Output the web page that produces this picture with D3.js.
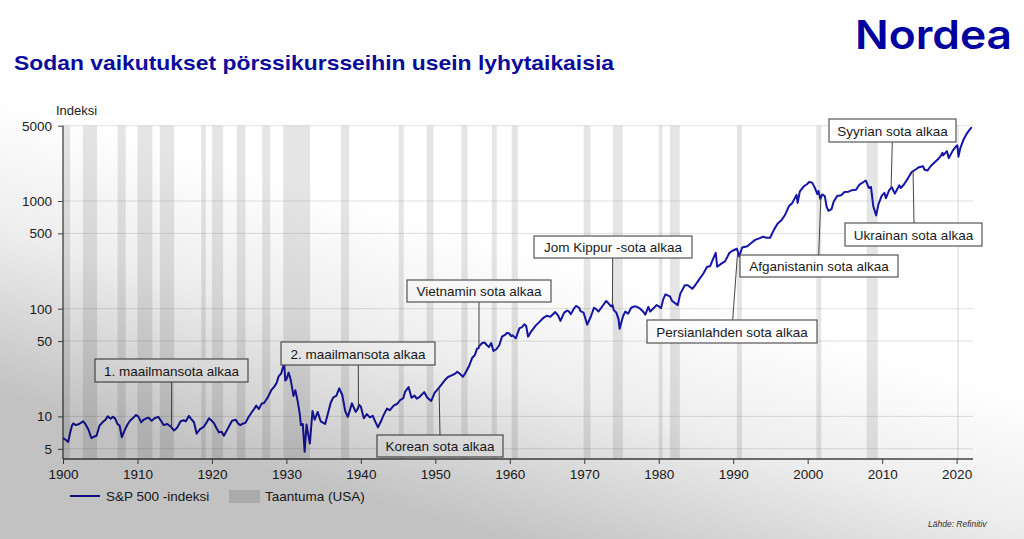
<!DOCTYPE html>
<html><head><meta charset="utf-8">
<script src="https://cdn.jsdelivr.net/npm/d3@7"></script>
<style>body{margin:0;background:#fff}svg{display:block;font-family:"Liberation Sans",Arial,sans-serif}</style>
</head><body><svg id="c" width="1024" height="539"></svg>
<script>
// ---- DATA ----
const dates = [1900.0,1900.3,1900.7,1900.95,1901.2,1901.4,1901.7,1902.0,1902.4,1902.7,1903.0,1903.4,1903.8,1904.2,1904.5,1904.9,1905.3,1905.7,1906.0,1906.4,1906.7,1907.0,1907.3,1907.6,1907.9,1908.3,1908.7,1909.0,1909.5,1909.8,1910.1,1910.5,1910.8,1911.2,1911.5,1911.9,1912.3,1912.8,1913.2,1913.5,1914.0,1914.5,1914.9,1915.3,1915.8,1916.2,1916.5,1916.9,1917.3,1917.6,1917.95,1918.4,1918.9,1919.3,1919.6,1919.9,1920.3,1920.6,1920.95,1921.3,1921.6,1921.9,1922.3,1922.7,1923.2,1923.5,1923.8,1924.2,1924.5,1924.9,1925.3,1925.7,1925.95,1926.3,1926.7,1927.0,1927.5,1927.95,1928.4,1928.7,1928.95,1929.3,1929.7,1929.85,1930.0,1930.3,1930.6,1930.95,1931.2,1931.5,1931.8,1931.95,1932.2,1932.45,1932.7,1932.9,1933.15,1933.5,1933.8,1934.2,1934.6,1935.2,1935.6,1935.95,1936.3,1936.7,1937.1,1937.5,1937.9,1938.25,1938.8,1939.3,1939.6,1939.75,1940.0,1940.4,1940.8,1941.2,1941.6,1941.95,1942.3,1942.7,1943.0,1943.5,1943.9,1944.4,1944.9,1945.3,1945.7,1945.95,1946.4,1946.8,1947.2,1947.5,1947.9,1948.5,1948.9,1949.45,1949.9,1950.5,1950.9,1951.3,1951.7,1952.2,1952.6,1952.95,1953.4,1953.7,1954.0,1954.5,1954.95,1955.3,1955.6,1955.8,1955.9,1956.3,1956.6,1956.9,1957.2,1957.5,1957.8,1958.2,1958.6,1958.95,1959.4,1959.6,1959.9,1960.2,1960.4,1960.8,1961.3,1961.6,1961.95,1962.2,1962.45,1962.9,1963.5,1963.95,1964.5,1965.0,1965.45,1966.1,1966.5,1966.8,1967.3,1967.7,1967.9,1968.2,1968.6,1968.9,1969.3,1969.5,1969.9,1970.4,1970.9,1971.3,1971.6,1971.9,1972.5,1972.95,1973.3,1973.6,1973.8,1973.95,1974.3,1974.6,1974.75,1975.2,1975.5,1975.9,1976.3,1976.7,1976.95,1977.5,1977.9,1978.2,1978.6,1978.85,1979.3,1979.7,1979.9,1980.2,1980.3,1980.6,1980.9,1981.2,1981.5,1981.8,1982.55,1982.9,1983.5,1983.9,1984.5,1984.9,1985.5,1985.95,1986.5,1986.9,1987.3,1987.65,1987.85,1988.5,1988.9,1989.5,1989.9,1990.5,1990.8,1991.2,1991.9,1992.5,1992.95,1993.5,1993.95,1994.5,1994.95,1995.5,1995.95,1996.5,1996.95,1997.5,1997.9,1998.5,1998.65,1998.95,1999.5,1999.9,2000.2,2000.6,2000.95,2001.3,2001.45,2001.7,2001.95,2002.3,2002.55,2002.8,2003.2,2003.5,2003.95,2004.5,2004.95,2005.5,2005.95,2006.5,2006.95,2007.5,2007.8,2008.2,2008.5,2008.8,2009.2,2009.5,2009.95,2010.3,2010.5,2010.95,2011.3,2011.7,2011.95,2012.3,2012.5,2012.95,2013.5,2013.95,2014.5,2014.95,2015.5,2015.7,2016.1,2016.5,2016.95,2017.5,2017.95,2018.1,2018.2,2018.7,2018.95,2019.5,2019.95,2020.1,2020.25,2020.5,2020.95,2021.3,2021.6,2021.95,2022.05];
const values = [6.3,6.1,5.8,7.0,8.2,8.6,8.3,8.4,8.7,9.0,8.5,7.6,6.3,6.5,6.6,8.2,8.8,9.3,10.0,9.5,9.9,9.6,8.5,8.2,6.4,7.5,8.5,9.1,9.8,10.3,10.0,8.8,9.3,9.6,9.7,9.1,9.6,9.9,9.0,8.3,8.5,8.0,7.4,7.8,9.0,9.2,9.0,10.1,9.3,8.8,6.9,7.6,8.0,8.8,9.6,9.2,8.6,7.8,7.1,7.2,6.6,7.2,8.1,9.1,9.3,8.6,8.3,8.6,8.7,9.8,10.8,11.8,12.6,11.7,13.2,13.3,15.0,17.4,19.0,20.5,23.5,25,31.3,21.5,22,25.5,21.5,15.5,17.5,14,10.5,8.3,8.5,4.7,8.4,7,5.6,11.2,9.3,11.0,9.0,8.5,10.8,13.4,15,15.5,18.2,15.8,11.2,9.9,13.2,11.0,11.8,12.8,12.3,9.6,10.5,9.8,10.1,8.9,7.9,9.0,10.1,11.8,11.4,12.6,13.1,14.2,14.8,17.0,18.7,14.9,15.6,14.6,15.2,16.8,15.0,13.9,16.5,18.5,20.0,21.8,23.2,24.0,24.8,26.0,24.5,23.3,25.0,29.0,35.0,37,42.5,43,45.0,48.0,48.5,46.0,44,48.0,40.5,42.0,46,55.0,57.5,59.5,59.0,55.5,56.5,53.0,66.0,67,71.5,69,55.0,62.0,70.0,75.0,82.0,86.0,84.0,93.0,86,77.0,92.0,96,95.0,89.0,100,106.0,102,95.0,92.0,71.0,85.0,102.0,99,94.0,107.0,118.0,111,105,108,97.0,92.0,80,65.0,85.0,94.0,90.0,102,105.0,105.0,100.0,94.0,88.0,104.0,94.0,101,108,106.0,103.0,101.0,122,136.0,133,130.0,118.0,108.0,138.0,165.0,165.0,153.0,165.0,190.0,210.0,245.0,248.0,290.0,330.0,245.0,265.0,275.0,330.0,345.0,360.0,305.0,370.0,380.0,412.0,435.0,450.0,465.0,455.0,455.0,545.0,615.0,665.0,740.0,900.0,950.0,1140.0,960.0,1230.0,1370.0,1430.0,1500.0,1480.0,1330.0,1160.0,1240.0,1040.0,1150.0,1110.0,880.0,810.0,840.0,990.0,1110.0,1130.0,1210.0,1220.0,1260.0,1270.0,1420.0,1500.0,1550.0,1320.0,1350.0,900.0,735.0,930.0,1120.0,1190.0,1060.0,1260.0,1340.0,1170.0,1260.0,1400.0,1320.0,1430.0,1640.0,1850.0,1960.0,2060.0,2100.0,1950.0,1920.0,2100.0,2250.0,2440.0,2670.0,2800.0,2650.0,2900.0,2500.0,2950.0,3230.0,3280.0,2580.0,3100.0,3750.0,4150.0,4450.0,4770.0,4700.0];

const recessionStart = [1900.0,1902.67,1907.33,1910.0,1913.0,1918.58,1920.0,1923.33,1926.75,1929.58,1937.33,1945.08,1948.83,1953.5,1957.58,1960.25,1969.92,1973.83,1980.0,1981.5,1990.5,2001.17,2007.92,2020.08];
const recessionEnd   = [1900.95,1904.58,1908.42,1912.0,1914.92,1919.17,1921.5,1924.5,1927.83,1933.17,1938.42,1945.75,1949.75,1954.33,1958.25,1961.08,1970.83,1975.17,1980.5,1982.83,1991.17,2001.83,2009.42,2020.25];

const yTicks = [5,10,50,100,500,1000,5000];
const xTicks = [1900,1910,1920,1930,1940,1950,1960,1970,1980,1990,2000,2010,2020];

const eventLabels = ["1. maailmansota alkaa","2. maailmansota alkaa","Korean sota alkaa","Vietnamin sota alkaa","Jom Kippur -sota alkaa","Persianlahden sota alkaa","Afganistanin sota alkaa","Syyrian sota alkaa","Ukrainan sota alkaa"];
const eventDates  = [1914.58,1939.67,1950.5,1955.86,1973.78,1990.6,2001.77,2011.2,2014.15];

// ---- LAYOUT (pixels) ----
const boxes = [
  {x0:95,x1:248,y0:359,y1:382,lx:171.7,side:"bottom"},
  {x0:281,x1:435,y0:342,y1:365,lx:358.3,side:"bottom"},
  {x0:377,x1:503,y0:435,y1:457,lx:440,side:"top"},
  {x0:407,x1:551,y0:280,y1:302,lx:479,side:"bottom"},
  {x0:534,x1:692,y0:236,y1:258,lx:612.7,side:"bottom"},
  {x0:647,x1:817,y0:320,y1:343,lx:732.7,side:"top"},
  {x0:740,x1:898,y0:255,y1:277,lx:818.7,side:"top"},
  {x0:829,x1:956,y0:119,y1:142,lx:892.3,side:"bottom"},
  {x0:845,x1:982,y0:223,y1:246,lx:914,side:"top"}
];

const svg = d3.select("#c");
const W=1024,H=539;
svg.append("rect").attr("width",W).attr("height",H).attr("fill","#fff");

const x = d3.scaleLinear().domain([1900,2022.2]).range([63,973]);
const y = d3.scaleLog().domain([4.02,5000]).range([459,125.7]);

// title & logo
svg.append("text").attr("x",14).attr("y",70).attr("font-size",21).attr("font-weight","bold")
  .attr("fill","#0b0b9c").attr("textLength",600).attr("lengthAdjust","spacingAndGlyphs")
  .text("Sodan vaikutukset pörssikursseihin usein lyhytaikaisia");
svg.append("text").attr("x",855).attr("y",49).attr("font-size",40).attr("font-weight",600)
  .attr("font-family","Inter, 'Open Sans', sans-serif")
  .attr("fill","#0000a0").attr("textLength",157).attr("lengthAdjust","spacingAndGlyphs").text("Nordea");

// gridlines
svg.append("g").selectAll("line").data(yTicks).join("line")
  .attr("x1",63).attr("x2",973).attr("y1",d=>y(d)).attr("y2",d=>y(d))
  .attr("stroke","#e0e0e0").attr("stroke-width",1);

// recession bands
svg.append("g").selectAll("rect").data(recessionStart).join("rect")
  .attr("x",(d)=>x(d)).attr("width",(d,i)=>Math.max(1.5,x(recessionEnd[i])-x(d)))
  .attr("y",y(5000)).attr("height",y(4.02)-y(5000))
  .attr("fill","#999").attr("fill-opacity",0.26);

// axes
const yAxis = d3.axisLeft(y).tickValues(yTicks).tickFormat(d3.format("d")).tickSize(5).tickPadding(6);
const gy = svg.append("g").attr("transform","translate(63,0)").call(yAxis);
const xAxis = d3.axisBottom(x).tickValues(xTicks).tickFormat(d3.format("d")).tickSize(5).tickPadding(5);
const gx = svg.append("g").attr("transform","translate(0,459)").call(xAxis);
[gx,gy].forEach(g=>{
  g.selectAll("path").attr("stroke","#444").attr("stroke-width",1.3);
  g.selectAll("line").attr("stroke","#444");
  g.selectAll("text").attr("font-size",13.5).attr("fill","#222").attr("font-family","'Liberation Sans',Arial,sans-serif");
});
gx.select(".domain").attr("d","M63,0H973");
gy.select(".domain").attr("d","M0,125.7V459");

svg.append("text").attr("x",56).attr("y",115).attr("font-size",13).attr("fill","#222").text("Indeksi");

// line
const pts = dates.map((d,i)=>[d,values[i]]);
const interp = yr => { const i=d3.bisector(p=>p[0]).left(pts,yr); if(i<=0) return pts[0][1]; if(i>=pts.length) return pts[pts.length-1][1];
  const a=pts[i-1],b=pts[i],t=(yr-a[0])/(b[0]-a[0]); return Math.exp(Math.log(a[1])+t*(Math.log(b[1])-Math.log(a[1]))); };

// annotations leaders
const ag = svg.append("g");
eventLabels.forEach((lab,i)=>{
  const b=boxes[i];
  const ly = b.side==="bottom"? b.y1 : b.y0;
  ag.append("line").attr("x1",b.lx).attr("y1",ly).attr("x2",x(eventDates[i])).attr("y2",y(interp(eventDates[i])))
    .attr("stroke","#444").attr("stroke-width",1);
});

svg.append("path").datum(pts)
  .attr("d",d3.line().x(p=>x(p[0])).y(p=>y(p[1])).curve(d3.curveLinear))
  .attr("fill","none").attr("stroke","#1414a8").attr("stroke-width",2).attr("stroke-linejoin","round");

eventLabels.forEach((lab,i)=>{
  const b=boxes[i];
  ag.append("rect").attr("x",b.x0).attr("y",b.y0).attr("width",b.x1-b.x0).attr("height",b.y1-b.y0)
    .attr("fill","#fff").attr("stroke","#555").attr("stroke-width",1.2);
  ag.append("text").attr("x",(b.x0+b.x1)/2).attr("y",(b.y0+b.y1)/2+5).attr("text-anchor","middle")
    .attr("font-size",13.5).attr("fill","#1a1a1a").text(lab);
});
svg.node().appendChild(ag.node());

// legend
svg.append("line").attr("x1",70).attr("x2",100).attr("y1",496).attr("y2",496).attr("stroke","#1414a8").attr("stroke-width",2);
svg.append("text").attr("x",106).attr("y",501).attr("font-size",13.5).attr("fill","#222").text("S&P 500 -indeksi");
svg.append("rect").attr("x",229).attr("y",490).attr("width",31).attr("height",13).attr("fill","#999").attr("fill-opacity",0.3);
svg.append("text").attr("x",265).attr("y",501).attr("font-size",13.5).attr("fill","#222").text("Taantuma (USA)");

svg.append("text").attr("x",928).attr("y",527).attr("font-size",8.5).attr("font-style","italic").attr("fill","#333").text("Lähde: Refinitiv");

// vignette overlay
const defs = svg.append("defs");
const gr = defs.append("linearGradient").attr("id","vg").attr("gradientUnits","userSpaceOnUse")
  .attr("x1",600).attr("y1",270).attr("x2",520).attr("y2",545);
gr.append("stop").attr("offset",0).attr("stop-color","#000").attr("stop-opacity",0);
gr.append("stop").attr("offset",0.45).attr("stop-color","#000").attr("stop-opacity",0.07);
gr.append("stop").attr("offset",1).attr("stop-color","#000").attr("stop-opacity",0.24);
svg.append("rect").attr("width",W).attr("height",H).attr("fill","url(#vg)").attr("pointer-events","none");
</script></body></html>
